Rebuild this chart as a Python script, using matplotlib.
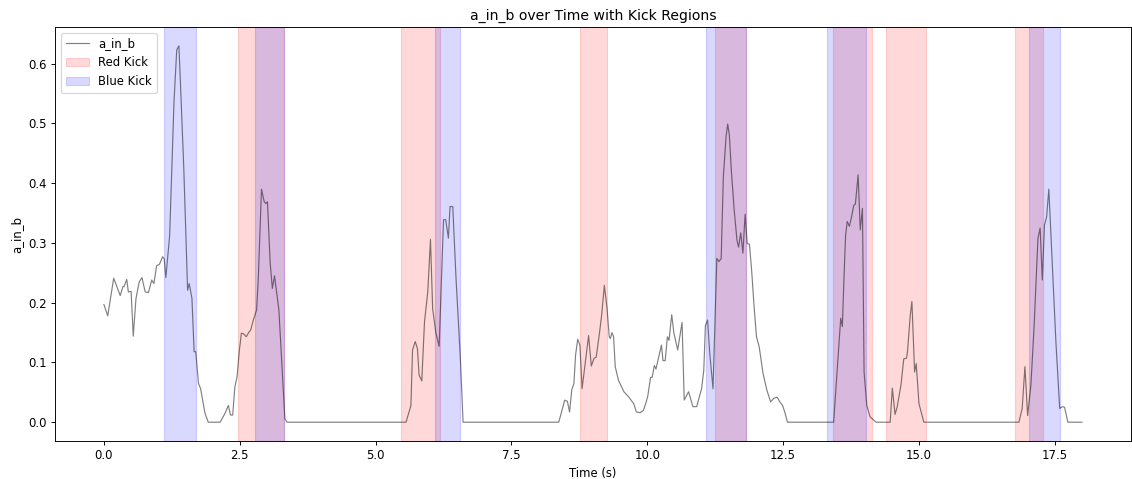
import matplotlib
matplotlib.use("Agg")
import matplotlib.pyplot as plt

# a_in_b signal
time = [0.00, 0.07, 0.18, 0.23, 0.30, 0.35, 0.37, 0.42, 0.45, 0.50, 0.54, 0.59, 0.65, 0.70, 0.76,
        0.82, 0.88, 0.92, 0.97, 1.02, 1.08, 1.11, 1.14, 1.21, 1.25, 1.29, 1.34, 1.38, 1.41, 1.47,
        1.54, 1.57, 1.62, 1.66, 1.69, 1.74, 1.78, 1.86, 1.92, 2.14, 2.23, 2.29, 2.33, 2.37, 2.41,
        2.45, 2.49, 2.53, 2.57, 2.62, 2.67, 2.70, 2.75, 2.81, 2.84, 2.90, 2.95, 2.98, 3.01, 3.06,
        3.10, 3.14, 3.22, 3.28, 3.33, 3.37,
        5.56, 5.65, 5.68, 5.73, 5.77, 5.80, 5.85, 5.90, 5.96, 6.01, 6.05, 6.11, 6.17, 6.25, 6.29,
        6.34, 6.37, 6.42, 6.48, 6.56, 6.61,
        8.37, 8.44, 8.48, 8.53, 8.57, 8.61, 8.65, 8.68, 8.72, 8.76, 8.80, 8.86, 8.92, 8.97, 9.02,
        9.06, 9.12, 9.16, 9.21, 9.26, 9.30, 9.32, 9.35, 9.38, 9.41, 9.47, 9.57, 9.66, 9.71, 9.75,
        9.80, 9.87, 9.93, 9.98, 10.01, 10.06, 10.09, 10.13, 10.16, 10.21, 10.26, 10.29, 10.33, 10.37,
        10.40, 10.45, 10.49, 10.56, 10.64, 10.68, 10.76, 10.84, 10.91, 10.95, 11.00, 11.04, 11.07,
        11.11, 11.15, 11.21, 11.28, 11.32, 11.36, 11.40, 11.45, 11.48, 11.51, 11.55, 11.60, 11.65,
        11.68, 11.72, 11.76, 11.80, 11.84, 11.88, 11.92, 11.97, 12.01, 12.06, 12.13, 12.20, 12.27,
        12.33, 12.39, 12.44, 12.49, 12.53, 12.58,
        13.43, 13.51, 13.56, 13.59, 13.62, 13.65, 13.68, 13.72, 13.76, 13.80, 13.83, 13.88, 13.92,
        13.96, 13.99, 14.04, 14.10, 14.21, 14.47, 14.51, 14.56, 14.60, 14.67, 14.72, 14.77, 14.79,
        14.84, 14.87, 14.92, 14.95, 15.00, 15.09,
        16.84, 16.90, 16.95, 17.00, 17.06, 17.12, 17.19, 17.23, 17.27, 17.31, 17.35, 17.39, 17.45,
        17.52, 17.59, 17.64, 17.68, 17.74, 18.00]
a_in_b = [0.197, 0.178, 0.241, 0.229, 0.212, 0.227, 0.227, 0.239, 0.218, 0.219, 0.144, 0.207, 0.235, 0.242, 0.218,
          0.217, 0.238, 0.232, 0.262, 0.264, 0.277, 0.273, 0.242, 0.313, 0.425, 0.537, 0.623, 0.630, 0.564, 0.425,
          0.221, 0.232, 0.207, 0.118, 0.118, 0.065, 0.056, 0.015, 0.0, 0.0, 0.015, 0.028, 0.012, 0.012, 0.059,
          0.076, 0.118, 0.149, 0.148, 0.143, 0.151, 0.154, 0.171, 0.188, 0.238, 0.390, 0.369, 0.366, 0.369, 0.266,
          0.224, 0.245, 0.188, 0.087, 0.006, 0.0,
          0.0, 0.028, 0.121, 0.135, 0.123, 0.079, 0.069, 0.168, 0.218, 0.306, 0.190, 0.149, 0.127, 0.339, 0.339,
          0.308, 0.361, 0.361, 0.241, 0.107, 0.0,
          0.0, 0.023, 0.037, 0.035, 0.017, 0.054, 0.065, 0.112, 0.139, 0.129, 0.056, 0.101, 0.145, 0.094, 0.107,
          0.109, 0.149, 0.179, 0.229, 0.190, 0.143, 0.140, 0.150, 0.143, 0.093, 0.070, 0.051, 0.042, 0.036, 0.031,
          0.017, 0.016, 0.020, 0.034, 0.044, 0.075, 0.075, 0.095, 0.089, 0.109, 0.129, 0.103, 0.103, 0.143,
          0.137, 0.180, 0.149, 0.121, 0.167, 0.037, 0.051, 0.026, 0.026, 0.040, 0.056, 0.087, 0.162,
          0.171, 0.115, 0.056, 0.274, 0.269, 0.274, 0.411, 0.478, 0.499, 0.481, 0.417, 0.355, 0.305,
          0.293, 0.317, 0.283, 0.348, 0.299, 0.298, 0.255, 0.188, 0.143, 0.126, 0.082, 0.054, 0.034,
          0.040, 0.042, 0.034, 0.028, 0.017, 0.0,
          0.0, 0.107, 0.174, 0.160, 0.241, 0.313, 0.336, 0.328, 0.344, 0.363, 0.365, 0.414, 0.322,
          0.358, 0.084, 0.028, 0.009, 0.0, 0.0, 0.057, 0.013, 0.026, 0.063, 0.106, 0.107, 0.119,
          0.179, 0.202, 0.084, 0.098, 0.031, 0.0,
          0.0, 0.023, 0.093, 0.011, 0.062, 0.162, 0.308, 0.325, 0.238, 0.330, 0.344, 0.390, 0.274,
          0.135, 0.023, 0.026, 0.025, 0.0, 0.0]

# kick regions (start, end) in seconds
red_kicks = [(2.46, 3.31), (5.46, 6.19), (8.77, 9.26), (11.25, 11.81), (13.41, 14.14), (14.39, 15.13), (16.76, 17.29)]
blue_kicks = [(1.10, 1.70), (2.78, 3.31), (6.09, 6.55), (11.08, 11.81), (13.31, 14.02), (17.03, 17.60)]

# original looks like a bigger figure shrunk down, so render at a lower dpi
DPI = 84
fig, ax = plt.subplots(figsize=(1132 / DPI, 479 / DPI), dpi=DPI)
ax.plot(time, a_in_b, color='black', alpha=0.5, linewidth=1, label='a_in_b')

for i, (s, e) in enumerate(red_kicks):
    ax.axvspan(s, e, color='red', alpha=0.15, label='Red Kick' if i == 0 else None)
for i, (s, e) in enumerate(blue_kicks):
    ax.axvspan(s, e, color='blue', alpha=0.15, label='Blue Kick' if i == 0 else None)

ax.set_title("a_in_b over Time with Kick Regions")
ax.set_xlabel("Time (s)")
ax.set_ylabel("a_in_b")
ax.legend(loc='upper left')
fig.subplots_adjust(left=0.0486, right=0.999, top=0.9436, bottom=0.0793)
plt.savefig("out.png", dpi=DPI)
